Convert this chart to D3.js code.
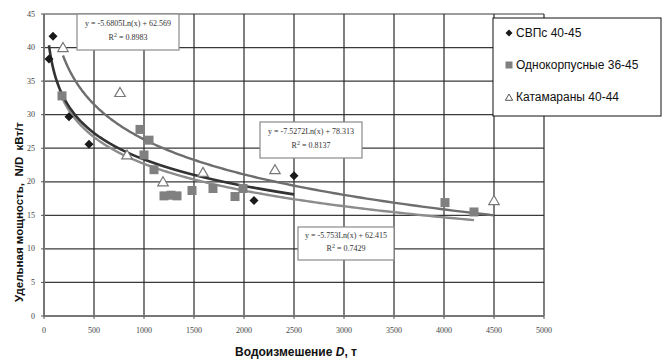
<!DOCTYPE html>
<html>
<head>
<meta charset="utf-8">
<script src="https://cdn.jsdelivr.net/npm/d3@7"></script>
<style>
  html, body { margin: 0; padding: 0; background: #fff; }
  svg { display: block; }
</style>
</head>
<body>
<svg id="chart" width="664" height="360"></svg>
<script>
// Displacement (t) vs specific power (kW/t) for three hull types
const svpX = [50, 90, 250, 450, 2100, 2500];
const svpY = [38.3, 41.7, 29.7, 25.6, 17.2, 20.9];

const monoX = [180, 960, 1000, 1050, 1100, 1200, 1270, 1330, 1480, 1690, 1910, 1990, 4010, 4300];
const monoY = [32.8, 27.8, 24.0, 26.2, 21.8, 17.9, 18.0, 17.9, 18.7, 19.0, 17.8, 19.0, 16.9, 15.5];

const catX = [190, 760, 830, 1190, 1590, 2310, 4500];
const catY = [40.0, 33.3, 24.0, 20.0, 21.4, 21.8, 17.2];

// Logarithmic trend coefficients: y = a*ln(x) + b
const trendA = [-5.6805, -5.753, -7.5272];
const trendB = [62.569, 62.415, 78.313];
const trendR2 = ["0.8983", "0.7429", "0.8137"];

const seriesNames = ["СВПс 40-45", "Однокорпусные 36-45", "Катамараны 40-44"];
const xTicks = [0, 500, 1000, 1500, 2000, 2500, 3000, 3500, 4000, 4500, 5000];
const yTicks = [0, 5, 10, 15, 20, 25, 30, 35, 40, 45];

const svg = d3.select("#chart");
const x = d3.scaleLinear().domain([0, 5000]).range([44, 544]);
const y = d3.scaleLinear().domain([0, 45]).range([316, 14]);

// grid as paths
const grid = svg.append("g").attr("class", "grid");
grid.selectAll("path.gh").data(yTicks).join("path").attr("class", "gh")
  .attr("d", d => `M${x(0)},${y(d)}H${x(5000)}`)
  .attr("fill", "none").attr("stroke", "#3a3a3a").attr("stroke-width", 1.2);
grid.selectAll("path.gv").data(xTicks).join("path").attr("class", "gv")
  .attr("d", d => `M${x(d)},${y(0)}V${y(45)}`)
  .attr("fill", "none").attr("stroke", "#2a2a2a").attr("stroke-width", 1.2);

// axes: domain lines, small outward ticks (as paths) and labels
const axes = svg.append("g");
axes.append("path").attr("d", `M${x(0)},${y(0)}H${x(5000)}`)
  .attr("stroke", "#777").attr("stroke-width", 2).attr("fill", "none");
axes.append("path").attr("d", `M${x(0)},${y(0)}V${y(45)}`)
  .attr("stroke", "#777").attr("stroke-width", 2).attr("fill", "none");
axes.selectAll("path.tx").data(xTicks).join("path").attr("class", "tx")
  .attr("d", d => `M${x(d)},${y(0)}v3`).attr("stroke", "#555").attr("fill", "none");
axes.selectAll("path.ty").data(yTicks).join("path").attr("class", "ty")
  .attr("d", d => `M${x(0)},${y(d)}h-3`).attr("stroke", "#555").attr("fill", "none");
axes.selectAll("text.lx").data(xTicks).join("text").attr("class", "lx")
  .attr("x", d => x(d)).attr("y", y(0) + 17).attr("text-anchor", "middle")
  .attr("font-family", "'Liberation Serif', 'Times New Roman', serif").attr("font-size", 8)
  .attr("fill", "#444").text(d3.format("d"));
axes.selectAll("text.ly").data(yTicks).join("text").attr("class", "ly")
  .attr("x", x(0) - 9).attr("y", d => y(d)).attr("dy", "0.32em").attr("text-anchor", "end")
  .attr("font-family", "'Liberation Serif', 'Times New Roman', serif").attr("font-size", 8)
  .attr("fill", "#444").text(d3.format("d"));

// trend lines
const ranges = [[d3.min(svpX), d3.max(svpX)], [d3.min(monoX), d3.max(monoX)], [d3.min(catX), d3.max(catX)]];
const lineColors = ["#333333", "#8c8c8c", "#6e6e6e"];
const lineWidths = [2.6, 2.4, 2.4];
const line = d3.line().x(d => x(d[0])).y(d => y(d[1]));
[1, 2, 0].forEach(i => {
  const [lo, hi] = ranges[i];
  const pts = d3.range(0, 201).map(k => {
    const xv = lo * Math.pow(hi / lo, k / 200);
    return [xv, trendA[i] * Math.log(xv) + trendB[i]];
  });
  svg.append("path").datum(pts).attr("d", line)
    .attr("fill", "none").attr("stroke", lineColors[i]).attr("stroke-width", lineWidths[i]);
});

// markers
function diamondPath(s) {
  return `M0,${-s}L${s},0L0,${s}L${-s},0Z`;
}
function triPath(s) {
  return `M0,${-s}L${s * 1.05},${s * 0.8}L${-s * 1.05},${s * 0.8}Z`;
}
svg.append("g").selectAll("path").data(catX.map((d, i) => [d, catY[i]])).join("path")
  .attr("transform", d => `translate(${x(d[0])},${y(d[1])})`)
  .attr("d", triPath(5)).attr("fill", "#fff").attr("stroke", "#777").attr("stroke-width", 1.2);
svg.append("g").selectAll("rect").data(monoX.map((d, i) => [d, monoY[i]])).join("rect")
  .attr("x", d => x(d[0]) - 4.5).attr("y", d => y(d[1]) - 4.5)
  .attr("width", 9).attr("height", 9).attr("fill", "#808080");
svg.append("g").selectAll("path").data(svpX.map((d, i) => [d, svpY[i]])).join("path")
  .attr("transform", d => `translate(${x(d[0])},${y(d[1])})`)
  .attr("d", diamondPath(4.5)).attr("fill", "#1a1a1a");

// equation labels
const fmtEq = i => `y = ${trendA[i]}Ln(x) + ${trendB[i]}`;
const boxes = [
  { i: 0, x0: 77, y0: 14, w: 102, h: 36 },
  { i: 2, x0: 260, y0: 122, w: 102, h: 36 },
  { i: 1, x0: 298, y0: 227, w: 96, h: 33 }
];
boxes.forEach(b => {
  const g = svg.append("g");
  g.append("rect").attr("x", b.x0).attr("y", b.y0).attr("width", b.w).attr("height", b.h)
    .attr("fill", "#fff").attr("stroke", "#8a8a8a").attr("stroke-width", 1.2);
  const cx = b.x0 + b.w / 2;
  g.append("text").attr("x", cx).attr("y", b.y0 + b.h * 0.33)
    .attr("text-anchor", "middle").attr("font-family", "'Liberation Serif', serif")
    .attr("font-size", 8).attr("fill", "#333").text(fmtEq(b.i));
  const t = g.append("text").attr("x", cx).attr("y", b.y0 + b.h * 0.72)
    .attr("text-anchor", "middle").attr("font-family", "'Liberation Serif', serif")
    .attr("font-size", 8).attr("fill", "#333");
  t.append("tspan").text("R");
  t.append("tspan").attr("dy", -3).attr("font-size", 6).text("2");
  t.append("tspan").attr("dy", 3).text(" = " + trendR2[b.i]);
});

// legend
const lg = svg.append("g");
lg.append("rect").attr("x", 493).attr("y", 18).attr("width", 168).attr("height", 98)
  .attr("fill", "#fff").attr("stroke", "#111").attr("stroke-width", 1);
const legY = [33, 65, 97];
lg.append("path").attr("transform", `translate(509,${legY[0]})`).attr("d", diamondPath(3.5)).attr("fill", "#1a1a1a");
lg.append("rect").attr("x", 505.5).attr("y", legY[1] - 3.5).attr("width", 7).attr("height", 7).attr("fill", "#808080");
lg.append("path").attr("transform", `translate(509,${legY[2] + 0.5})`).attr("d", triPath(3.5))
  .attr("fill", "#fff").attr("stroke", "#555").attr("stroke-width", 1);
seriesNames.forEach((n, i) => {
  lg.append("text").attr("x", 516).attr("y", legY[i]).attr("dy", "0.36em")
    .attr("font-family", "'Liberation Sans', Arial, sans-serif").attr("font-size", 12)
    .attr("fill", "#111").text(n);
});

// axis titles
const xt = svg.append("text").attr("x", 296).attr("y", 356).attr("text-anchor", "middle")
  .attr("font-family", "'Liberation Sans', Arial, sans-serif").attr("font-size", 12)
  .attr("font-weight", "bold").attr("fill", "#111");
xt.append("tspan").text("Водоизмешение ");
xt.append("tspan").attr("font-style", "italic").text("D");
xt.append("tspan").text(", т");

svg.append("text").attr("transform", "translate(23,212) rotate(-90)").attr("text-anchor", "middle")
  .attr("font-family", "'Liberation Sans', Arial, sans-serif").attr("font-size", 11.5)
  .attr("font-weight", "bold").attr("fill", "#111").attr("xml:space", "preserve")
  .text("Удельная мощность,  N/D  кВт/т");
</script>
</body>
</html>
